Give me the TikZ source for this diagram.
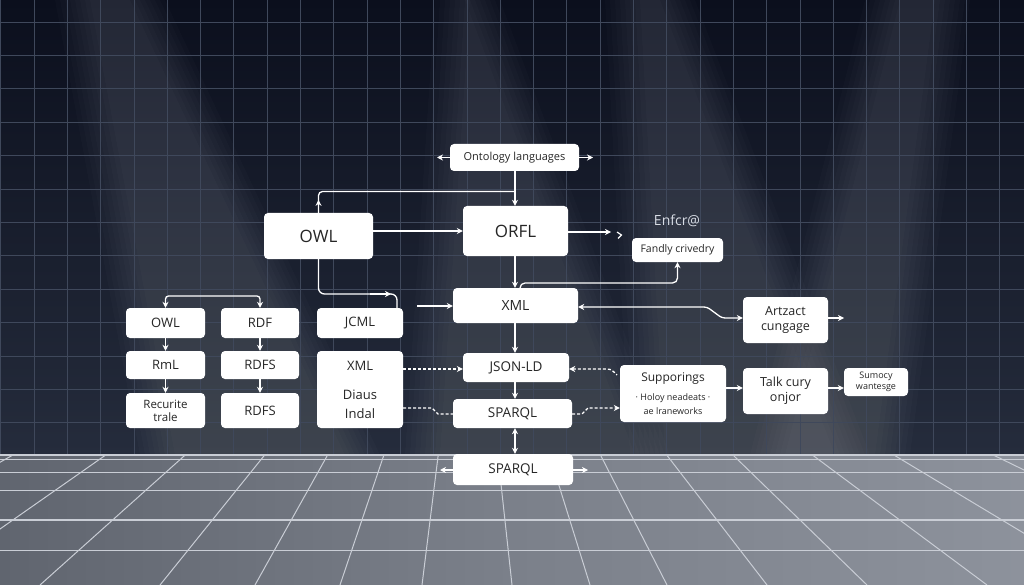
\documentclass[tikz,border=0pt]{standalone}
\usepackage{fontspec}
\setmainfont{Open Sans}
\usetikzlibrary{arrows.meta,calc}
\definecolor{bgtop}{HTML}{0B0F1D}
\definecolor{bgbot}{HTML}{252C3C}
\definecolor{gridc}{HTML}{3F485B}
\definecolor{floorL}{HTML}{60656F}
\definecolor{floorM}{HTML}{7B808A}
\definecolor{floorR}{HTML}{8D929C}
\definecolor{flline}{HTML}{C9CDD5}
\definecolor{txt}{HTML}{262626}
\definecolor{lbl}{HTML}{D8DCE4}
\newcommand{\fz}[2]{\fontsize{#1}{#2}\selectfont}
\begin{document}
\begin{tikzpicture}[x=1pt,y=-1pt,
  >={Stealth[length=6pt,width=6pt]},
  box/.style={fill=white, rounded corners=4pt, inner sep=0pt, text=txt, align=center},
  conn/.style={draw=white, line width=1.3pt},
  dconn/.style={conn, dash pattern=on 3pt off 2pt},
  beam/.style={fill=white, opacity=0.016}]
\useasboundingbox (0,0) rectangle (1024,585);
% background
\shade[top color=bgtop, bottom color=bgbot] (0,0) rectangle (1024,455);
% light beams (soft, layered)
\foreach \s in {0,5,...,35}{
  \fill[beam] (55+\s,0) -- (165-\s,0) -- (380-\s,455) -- (140+\s,455) -- cycle;
  \fill[beam] (435+\s,0) -- (500-\s,0) -- (670-\s,455) -- (405+\s,455) -- cycle;
  \fill[beam] (605+\s,0) -- (695-\s,0) -- (870-\s,455) -- (630+\s,455) -- cycle;
  \fill[beam] (865+\s,0) -- (970-\s,0) -- (910-\s,455) -- (750+\s,455) -- cycle;
}
% grid
\foreach \k in {0,...,31}
  \draw[gridc, line width=0.7pt] ({0.7+33.3*\k},0) -- ({0.7+33.3*\k},455);
\foreach \k in {0,...,12}
  \draw[gridc, line width=0.7pt] (0,{22+33.4*\k}) -- (1024,{22+33.4*\k});
% floor
\shade[left color=floorL, right color=floorR, middle color=floorM] (0,455) rectangle (1024,585);
\begin{scope}
  \clip (0,455) rectangle (1024,585);
  \foreach \b in {-220,-80,40,160,255,340,422,512,590,667,767,867,987,1110,1260}
    \draw[flline, line width=1pt] (470,200) -- (\b,585);
  \foreach \y in {459.5,472.5,490.5,520,550.5}
    \draw[flline, line width=1.2pt] (0,\y) -- (1024,\y);
\end{scope}
\draw[flline, line width=2pt] (0,455) -- (1024,455);

% nodes
\node[box, minimum width=129, minimum height=27, font=\fz{11}{13}] (onto) at (514.5,157.5) {Ontology languages};
\node[box, minimum width=109, minimum height=46, font=\fz{17}{20}] (owlA) at (318.5,236) {OWL};
\node[box, minimum width=105, minimum height=50, font=\fz{17}{20}] (orfl) at (515.5,231) {ORFL};
\node[text=lbl, font=\fz{14}{16}] (enf) at (677,221) {Enfcr@};
\node[box, minimum width=91, minimum height=24, font=\fz{10.5}{12}] (fand) at (677.5,250) {Fandly crivedry};
\node[box, minimum width=125, minimum height=35, font=\fz{14}{16}] (xmlA) at (515.5,305.5) {XML};
\node[box, minimum width=85, minimum height=46, font=\fz{12.5}{15}] (artz) at (785.5,320) {Artzact\\cungage};
\node[box, minimum width=79, minimum height=30, font=\fz{13}{15}] (owlB) at (165.5,323) {OWL};
\node[box, minimum width=78, minimum height=30, font=\fz{13}{15}] (rdf) at (260,323) {RDF};
\node[box, minimum width=86, minimum height=30, font=\fz{13}{15}] (jcml) at (360,323) {JCML};
\node[box, minimum width=79, minimum height=28, font=\fz{13}{15}] (rml) at (165.5,365) {RmL};
\node[box, minimum width=78, minimum height=28, font=\fz{13}{15}] (rdfs) at (260,365) {RDFS};
\node[box, minimum width=79, minimum height=35, font=\fz{11.5}{13}] (recur) at (165.5,410.5) {Recurite\\trale};
\node[box, minimum width=78, minimum height=35, font=\fz{13}{15}] (rdfsb) at (260,410.5) {RDFS};
\node[box, minimum width=86, minimum height=77, font=\fz{13}{19}] (xmlB) at (360,389.5) {XML\\[10pt]Diaus\\Indal};
\node[box, minimum width=106, minimum height=29, font=\fz{13.5}{16}] (json) at (516,367.5) {JSON-LD};
\node[box, minimum width=119, minimum height=29, font=\fz{13.5}{16}] (spqA) at (512.5,413.5) {SPARQL};
\node[box, minimum width=120, minimum height=31, font=\fz{13.5}{16}] (spqB) at (513,469.5) {SPARQL};
\node[box, minimum width=106, minimum height=57, font=\fz{12}{14}] (supp) at (673,393.5)
  {Supporings\\[5pt]\fz{9}{10.5}· Holoy neadeats ·\\\fz{9}{10.5}ae lraneworks};
\node[box, minimum width=85, minimum height=46, font=\fz{12.5}{15}] (talk) at (785.5,391) {Talk cury\\onjor};
\node[box, minimum width=64, minimum height=28, font=\fz{9}{11}] (sumo) at (876,382) {Sumocy\\wantesge};

% free ends
\coordinate (ontoL) at (437,157.5);
\coordinate (ontoR) at (593,157.5);
\coordinate (orflR) at (611,232);
\coordinate (xmlIn) at (417,306);
\coordinate (artzR) at (844,318);
\coordinate (spqBL) at (440,470);
\coordinate (spqBR) at (588,470);

% connectors
\draw[conn,->] (onto.west) -- (ontoL);
\draw[conn,->] (onto.east) -- (ontoR);
\draw[conn,->] (onto.south -| 515,0) -- (orfl.north -| 515,0);
\draw[conn, rounded corners=4pt] (owlA.north) -- (318.5,191.5) -- (515,191.5);
\draw[conn,->] (owlA.north) -- ++(0,-13);
\draw[conn,->] (owlA.east |- 0,231) -- (orfl.west |- 0,231);
\draw[conn,->] (orfl.east |- orflR) -- (orflR);
\draw[conn, line width=1.2pt] (617,232) -- (621.5,235) -- (618,238.5);
\draw[conn,->] (orfl.south -| 515,0) -- (xmlA.north -| 515,0);
\draw[conn,->, rounded corners=5pt] (xmlA.north -| 520,0) -- (520,283) -- (677.5,283) -- (fand.south);
\draw[conn, rounded corners=6pt] (owlA.south) -- (318.5,294) -- (397,294) -- (jcml.north -| 397,0);
\draw[conn,->] (370,294) -- (391,294);
\draw[conn,->] (xmlIn) -- (xmlA.west |- xmlIn);
\draw[conn,<->, rounded corners=3pt] (xmlA.east |- 0,307) -- (707,307) -- (722,318) -- (artz.west |- 0,318);
\draw[conn,->] (artz.east |- artzR) -- (artzR);
\draw[conn,<->, rounded corners=3pt] (owlB.north) -- (165.5,296) -- (260,296) -- (rdf.north);
\draw[conn,->] (owlB) -- (rml);
\draw[conn,->] (rml) -- (recur);
\draw[conn,->] (rdf) -- (rdfs);
\draw[conn,->] (rdfs) -- (rdfsb);
\draw[conn,->] (xmlA.south -| 515,0) -- (json.north -| 515,0);
\draw[conn,->] (json.south -| 515,0) -- (spqA.north -| 515,0);
\draw[conn,<->] (spqA.south -| 515,0) -- (spqB.north -| 515,0);
\draw[conn,->] (spqB.west |- spqBL) -- (spqBL);
\draw[conn,->] (spqB.east |- spqBR) -- (spqBR);
\draw[dconn,->] (xmlB.east |- 0,369) -- (json.west |- 0,369);
\draw[dconn] (xmlB.east |- 0,408) -- (432,408) -- (438,414) -- (spqA.west |- 0,414);
\draw[dconn,<-] (json.east |- 0,369) -- (607,369) to[out=0,in=135] (617,375);
\draw[dconn,->] (spqA.east |- 0,414) -- (582,414) -- (588,408) -- (supp.west |- 0,408);
\draw[conn,->] (supp.east |- 0,388) -- (talk.west |- 0,388);
\draw[conn,->] (talk.east |- 0,388) -- (sumo.west |- 0,388);
\end{tikzpicture}
\end{document}
